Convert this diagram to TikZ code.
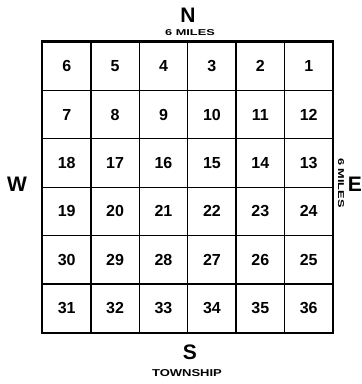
\documentclass[tikz,border=0pt]{standalone}
\usepackage{fontspec}
\setmainfont{Liberation Sans}
\usepackage{tikz}
\usetikzlibrary{positioning}
\tikzset{
  sec/.style={draw,line width=1.3pt,minimum size=48.4pt,inner sep=0pt,
    font=\bfseries\fontsize{16}{16}\selectfont},
  border/.style={draw,line width=1.8pt},
  compass/.style={font=\bfseries\fontsize{21}{21}\selectfont},
  milelbl/.style={font=\bfseries\fontsize{8.5}{8.5}\selectfont},
  townlbl/.style={font=\bfseries\fontsize{10}{10}\selectfont}
}
\begin{document}
\begin{tikzpicture}[x=1pt,y=-1pt]
\useasboundingbox (0,0) rectangle (362,384);
% sections numbered back and forth, starting at the north east corner
\foreach \r in {0,...,5} {
  \foreach \c in {0,...,5} {
    \pgfmathtruncatemacro{\n}{isodd(\r) ? 6*\r+1+\c : 6*\r+6-\c}
    \node[sec] (s\n) at ({42.5+48.4*(\c+0.5)},{42+48.4*(\r+0.5)}) {\n};
  }
}
\draw[border] (s6.north west) rectangle (s36.south east);
\node[compass] (north) at (188,15) {N};
\node[compass] (south) at (190,352) {S};
\node[compass] (west) at (17,184) {W};
\node[compass] (east) at (355,184) {E};
\node[milelbl] (miletop) at (190,33) {\scalebox{1.5}[1]{6 MILES}};
\node[milelbl,rotate=-90] (mileside) at (341,183) {\scalebox{1.5}[1]{6 MILES}};
\node[townlbl] (town) at (187,373) {\scalebox{1.3}[1]{TOWNSHIP}};
\end{tikzpicture}
\end{document}
